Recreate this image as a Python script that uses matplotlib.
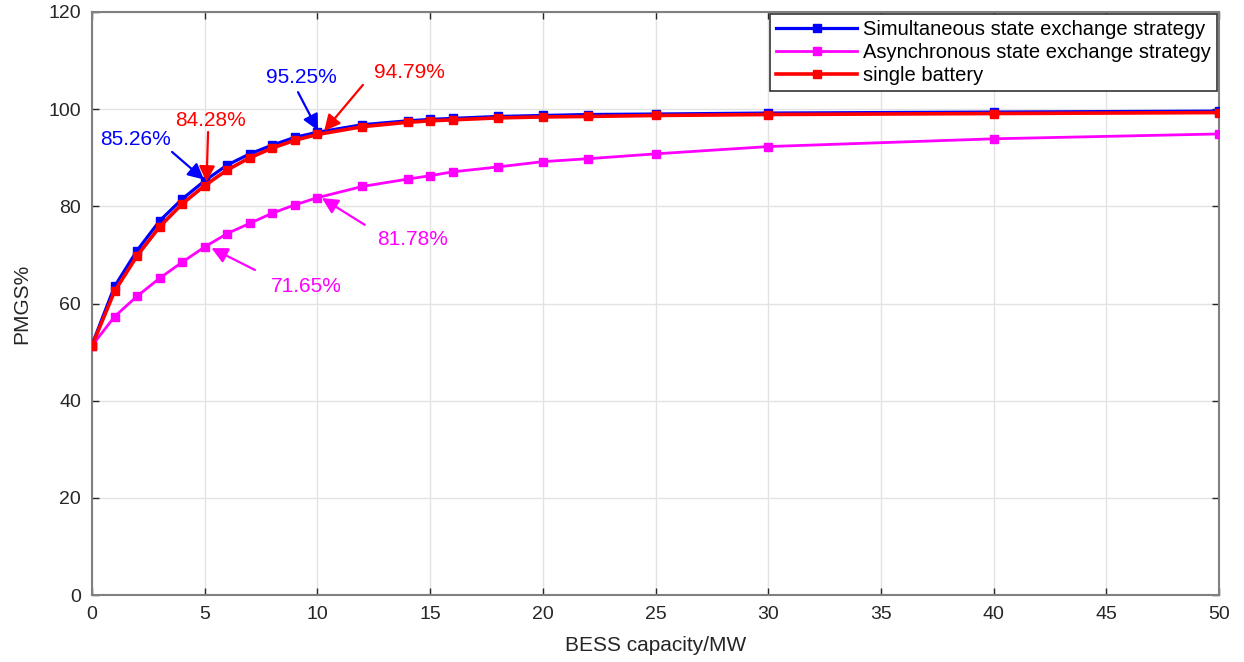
import matplotlib.pyplot as plt

plt.rcParams['font.family'] = ['Liberation Sans', 'DejaVu Sans']

# BESS capacity (MW)
capacity = [0, 1, 2, 3, 4, 5, 6, 7, 8, 9, 10, 12, 14, 15, 16, 18, 20, 22, 25, 30, 40, 50]

# PMGS% for each strategy
simultaneous = [51.5, 63.5, 70.9, 77.0, 81.5, 85.26, 88.5, 90.8, 92.6, 94.2, 95.25,
                96.8, 97.6, 97.9, 98.1, 98.5, 98.7, 98.9, 99.0, 99.2, 99.4, 99.6]
asynchronous = [51.3, 57.3, 61.5, 65.2, 68.5, 71.65, 74.4, 76.5, 78.6, 80.3, 81.78,
                84.1, 85.6, 86.3, 87.1, 88.1, 89.2, 89.8, 90.8, 92.3, 93.9, 94.9]
single = [51.3, 62.5, 69.8, 75.8, 80.5, 84.28, 87.5, 90.0, 92.0, 93.6, 94.79,
          96.4, 97.3, 97.6, 97.8, 98.2, 98.4, 98.5, 98.7, 98.9, 99.1, 99.3]

series_labels = ['Simultaneous state exchange strategy',
                 'Asynchronous state exchange strategy',
                 'single battery']
series_colors = ['#0000ff', '#ff00ff', '#ff0000']

# annotations: text, colour, text position, arrow tail, arrow head
notes = [
    ('85.26%', '#0000ff', (1.95, 93.7), (3.55, 91.2), (4.97, 85.5)),
    ('84.28%', '#ff0000', (5.24, 97.6), (5.15, 95.3), (5.08, 85.0)),
    ('95.25%', '#0000ff', (9.27, 106.6), (9.14, 103.5), (10.03, 95.6)),
    ('94.79%', '#ff0000', (14.1, 107.5), (12.02, 105.0), (10.3, 95.5)),
    ('81.78%', '#ff00ff', (14.2, 73.1), (12.1, 76.2), (10.2, 81.7)),
    ('71.65%', '#ff00ff', (9.5, 63.4), (7.23, 66.9), (5.3, 71.4)),
]

fig = plt.figure(figsize=(12.44, 6.62), dpi=100)
ax = fig.add_axes([92 / 1244, 1 - 595 / 662, (1219 - 92) / 1244, (595 - 12) / 662])

ax.plot(capacity, simultaneous, color=series_colors[0], marker='s', markersize=6,
        linewidth=2.3, label=series_labels[0], zorder=3)
ax.plot(capacity, asynchronous, color=series_colors[1], marker='s', markersize=6,
        linewidth=2.0, label=series_labels[1], zorder=3)
ax.plot(capacity, single, color=series_colors[2], marker='s', markersize=6,
        linewidth=2.6, label=series_labels[2], zorder=4)

for text, col, tpos, tail, head in notes:
    ax.text(tpos[0], tpos[1], text, color=col, fontsize=15, ha='center', va='center')
    ax.annotate('', xy=head, xytext=tail,
                arrowprops=dict(arrowstyle='-|>', color=col, lw=1.6,
                                mutation_scale=24, shrinkA=0, shrinkB=0))

ax.set_xlim(0, 50)
ax.set_ylim(0, 120)
ax.set_xticks(range(0, 51, 5))
ax.set_yticks(range(0, 121, 20))
ax.grid(True, color='#e3e3e3', linewidth=1.0)
ax.set_axisbelow(True)

for s in ax.spines.values():
    s.set_color('#808080')
    s.set_linewidth(1.5)
ax.tick_params(direction='in', top=True, right=True, labelsize=14,
               colors='#262626', length=5, width=1.0, pad=8)
for t in ax.xaxis.get_ticklines() + ax.yaxis.get_ticklines():
    t.set_color('#404040')

ax.set_xlabel('BESS capacity/MW', fontsize=15, color='#262626', labelpad=9)
ax.set_ylabel('PMGS%', fontsize=15, color='#262626', labelpad=12)

leg = ax.legend(loc='upper right', fontsize=14.5, handlelength=4.0,
                borderaxespad=0.1, fancybox=False, framealpha=1,
                edgecolor='#333333', handletextpad=0.3, borderpad=0.3,
                labelspacing=0.2)
leg.get_frame().set_linewidth(1.2)

fig.savefig('out.png', dpi=100)
